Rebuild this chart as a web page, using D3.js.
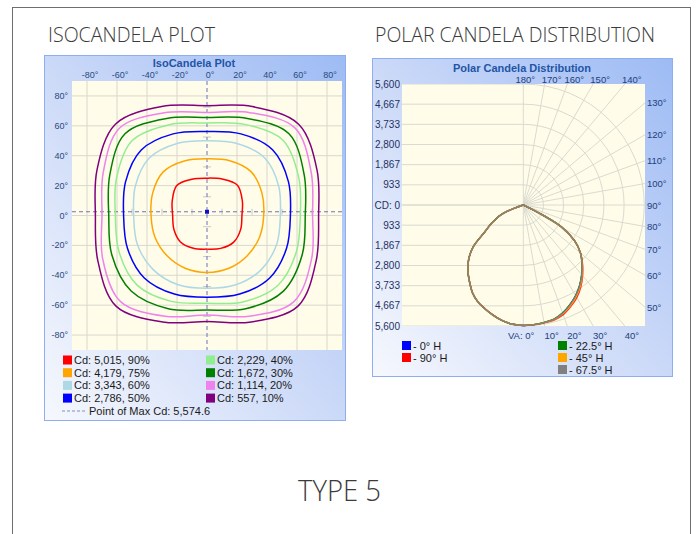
<!DOCTYPE html>
<html>
<head>
<meta charset="utf-8">
<script src="https://cdn.jsdelivr.net/npm/d3@7.9.0/dist/d3.min.js"></script>
<style>
  html, body { margin: 0; padding: 0; background: #fff; }
  svg { display: block; }
  text { font-family: "Liberation Sans", Arial, sans-serif; }
  .big { font-family: "Open Sans", "Noto Sans", sans-serif; font-weight: 300; fill: #3b3b3b; }
</style>
</head>
<body>
<svg id="chart" width="697" height="534"></svg>
<script>
// ---- isocandela data ----
const isoTicks = [-80, -60, -40, -20, 0, 20, 40, 60, 80];
const isoMinor = [-70, -50, -30, -10, 10, 30, 50, 70];
const isoAngles = [0, 22.5, 45, 67.5, 90, 112.5, 135, 157.5, 180, 202.5, 225, 247.5, 270, 292.5, 315, 337.5];
// radius of each contour (degrees) at isoAngles
const r90 = [23.3, 25.5, 28.7, 26.4, 25.0, 26.3, 28.5, 25.1, 22.9, 23.9, 25.0, 23.7, 22.5, 23.8, 25.2, 24.3];
const r75 = [37.8, 39.6, 41.5, 39.7, 37.9, 39.5, 41.3, 39.2, 37.3, 37.6, 37.9, 38.2, 38.1, 38.2, 38.0, 37.9];
const r60 = [48.9, 51.7, 54.4, 52.2, 50.0, 52.2, 54.4, 51.7, 48.9, 50.3, 51.0, 50.2, 48.7, 50.2, 51.2, 50.3];
const r50 = [55.6, 58.8, 62.0, 59.1, 56.2, 59.1, 62.0, 58.8, 55.6, 57.4, 59.1, 56.9, 54.7, 56.9, 59.1, 57.4];
const r40 = [62.2, 66.2, 71.4, 66.0, 61.9, 65.8, 70.7, 65.3, 61.1, 63.5, 65.9, 62.2, 58.7, 62.6, 66.5, 64.4];
const r30 = [65.5, 70.2, 77.3, 70.3, 65.6, 70.3, 77.3, 70.2, 65.5, 68.7, 71.5, 67.5, 63.2, 67.5, 71.8, 68.7];
const r20 = [70.4, 75.2, 82.9, 74.5, 69.0, 74.4, 82.6, 74.9, 70.0, 75.3, 81.5, 73.0, 66.6, 73.0, 81.7, 75.5];
const r10 = [74.4, 79.4, 86.4, 78.9, 73.5, 78.9, 86.4, 79.4, 74.4, 78.8, 85.8, 77.1, 71.0, 77.1, 85.8, 78.8];
const isoRadii = [r90, r75, r60, r50, r40, r30, r20, r10];
const isoLabels = ["Cd: 5,015, 90%", "Cd: 4,179, 75%", "Cd: 3,343, 60%", "Cd: 2,786, 50%",
                   "Cd: 2,229, 40%", "Cd: 1,672, 30%", "Cd: 1,114, 20%", "Cd: 557, 10%"];
const maxPoint = [0, 2.5];
const maxLabel = "Point of Max Cd: 5,574.6";

// ---- polar data ----
const cdTicks = [0, 933, 1867, 2800, 3733, 4667, 5600];
const vaTicks = [0, 10, 20, 30, 40, 50, 60, 70, 80, 90, 100, 110, 120, 130, 140, 150, 160, 170, 180];
const vaAngles = [0, 5, 10, 15, 20, 25, 30, 35, 40, 45, 50, 55, 60, 62.5, 65, 67.5, 70, 75, 80, 85, 90];
const h0Right   = [5575, 5560, 5525, 5480, 5330, 5100, 4850, 4550, 4210, 3850, 3450, 2900, 2050, 1150, 150, 0, 0, 0, 0, 0, 0];
const h0Left    = [5575, 5540, 5450, 5300, 5130, 4960, 4700, 4340, 3990, 3580, 3040, 2180, 1700, 1450, 1250, 1000, 480, 0, 0, 0, 0];
const h90Right  = [5575, 5565, 5540, 5510, 5400, 5190, 4950, 4640, 4270, 3880, 3460, 2900, 2040, 1130, 140, 0, 0, 0, 0, 0, 0];
const h90Left   = [5575, 5540, 5445, 5290, 5120, 4950, 4690, 4330, 3980, 3570, 3030, 2160, 1690, 1440, 1240, 990, 470, 0, 0, 0, 0];
const h225Right = [5575, 5560, 5520, 5470, 5310, 5090, 4840, 4540, 4200, 3840, 3450, 2920, 2080, 1180, 170, 0, 0, 0, 0, 0, 0];
const h225Left  = [5575, 5540, 5450, 5300, 5130, 4960, 4700, 4340, 3990, 3580, 3050, 2200, 1720, 1470, 1270, 1010, 490, 0, 0, 0, 0];
const h45Right  = [5575, 5560, 5530, 5490, 5360, 5150, 4900, 4600, 4240, 3860, 3450, 2900, 2050, 1150, 150, 0, 0, 0, 0, 0, 0];
const h45Left   = [5575, 5540, 5450, 5300, 5130, 4960, 4700, 4340, 3990, 3580, 3040, 2180, 1700, 1450, 1250, 1000, 480, 0, 0, 0, 0];
const h675Right = [5575, 5560, 5525, 5480, 5330, 5100, 4850, 4550, 4210, 3850, 3450, 2900, 2050, 1150, 150, 0, 0, 0, 0, 0, 0];
const h675Left  = [5575, 5540, 5450, 5300, 5130, 4960, 4700, 4340, 3990, 3580, 3040, 2180, 1700, 1450, 1250, 1000, 480, 0, 0, 0, 0];
const planeLabels = ["- 0° H", "- 90° H", "- 22.5° H", "- 45° H", "- 67.5° H"];
const planeRight = [h0Right, h90Right, h225Right, h45Right, h675Right];
const planeLeft = [h0Left, h90Left, h225Left, h45Left, h675Left];

const isoColors = ["#ff0000", "#ffa500", "#add8e6", "#0000ff", "#90ee90", "#008000", "#ee82ee", "#800080"];
const planeColors = ["#0000ff", "#ff0000", "#008000", "#ffa500", "#808080"];

const svg = d3.select('#chart');
const defs = svg.append('defs');
const grad = defs.append('linearGradient').attr('id', 'panelGrad')
    .attr('x1', 1).attr('y1', 0).attr('x2', 0).attr('y2', 1);
grad.append('stop').attr('offset', '0%').attr('stop-color', '#9dbbf4');
grad.append('stop').attr('offset', '50%').attr('stop-color', '#cbd9f8');
grad.append('stop').attr('offset', '100%').attr('stop-color', '#f6f8fd');

// page frame and headings
svg.append('rect').attr('x', 12.5).attr('y', 7.5).attr('width', 678).attr('height', 560)
    .attr('fill', 'none').attr('stroke', '#6e6e6e');
svg.append('text').attr('class', 'big').attr('x', 48).attr('y', 42).attr('font-size', 21)
    .attr('textLength', 167).attr('lengthAdjust', 'spacingAndGlyphs').text('ISOCANDELA PLOT');
svg.append('text').attr('class', 'big').attr('x', 375).attr('y', 42).attr('font-size', 21)
    .attr('textLength', 280).attr('lengthAdjust', 'spacingAndGlyphs').text('POLAR CANDELA DISTRIBUTION');
svg.append('text').attr('class', 'big').attr('x', 298).attr('y', 501).attr('font-size', 30)
    .attr('textLength', 83).attr('lengthAdjust', 'spacingAndGlyphs').text('TYPE 5');

// ================= isocandela plot =================
const isoX = d3.scaleLinear().domain([-90, 90]).range([72, 342]);
const isoY = d3.scaleLinear().domain([-90, 90]).range([350, 81]);

svg.append('rect').attr('x', 44.5).attr('y', 55.5).attr('width', 301).attr('height', 365)
    .attr('fill', 'url(#panelGrad)').attr('stroke', '#8eaef0');
svg.append('rect').attr('x', isoX(-90)).attr('y', isoY(90))
    .attr('width', isoX(90) - isoX(-90)).attr('height', isoY(-90) - isoY(90)).attr('fill', '#fffde9');

const isoG = svg.append('g');
isoTicks.forEach(t => {
    if (t !== 0) {
        isoG.append('line').attr('x1', isoX(t)).attr('x2', isoX(t)).attr('y1', isoY(90)).attr('y2', isoY(-90))
            .attr('stroke', '#d8d8cc');
    }
    isoG.append('line').attr('y1', isoY(t)).attr('y2', isoY(t)).attr('x1', isoX(-90)).attr('x2', isoX(90))
        .attr('stroke', '#d8d8cc');
    isoG.append('text').attr('x', isoX(t) + 3).attr('y', 78).attr('text-anchor', 'middle')
        .attr('font-size', 9).attr('fill', '#2b4a7c').text(t + '°');
    isoG.append('text').attr('x', 68).attr('y', isoY(t) + 3).attr('text-anchor', 'end')
        .attr('font-size', 9).attr('fill', '#2b4a7c').text(t + '°');
});

// minor ticks along crosshair
isoMinor.forEach(m => {
    isoG.append('line').attr('x1', isoX(m)).attr('x2', isoX(m))
        .attr('y1', isoY(maxPoint[1]) - 3).attr('y2', isoY(maxPoint[1]) + 3).attr('stroke', '#c8c8c8');
    isoG.append('line').attr('y1', isoY(maxPoint[1] + m)).attr('y2', isoY(maxPoint[1] + m))
        .attr('x1', isoX(0) - 4).attr('x2', isoX(0) + 4).attr('stroke', '#c8c8c8');
});

// crosshair through max point
isoG.append('line').attr('x1', isoX(maxPoint[0])).attr('x2', isoX(maxPoint[0]))
    .attr('y1', isoY(90)).attr('y2', isoY(-90))
    .attr('stroke', '#7070b8').attr('stroke-dasharray', '4,3');
isoG.append('line').attr('y1', isoY(maxPoint[1])).attr('y2', isoY(maxPoint[1]))
    .attr('x1', isoX(-90)).attr('x2', isoX(90))
    .attr('stroke', '#7070b8').attr('stroke-dasharray', '4,3');

const contourLine = d3.line().x(d => isoX(d[0])).y(d => isoY(d[1]))
    .curve(d3.curveCatmullRomClosed.alpha(0.5));
isoRadii.forEach((radii, i) => {
    const pts = radii.map((r, j) => {
        const a = isoAngles[j] * Math.PI / 180;
        return [r * Math.cos(a), r * Math.sin(a)];
    });
    isoG.append('path').attr('d', contourLine(pts)).attr('fill', 'none')
        .attr('stroke', isoColors[i]).attr('stroke-width', 1.5);
});
isoG.append('rect').attr('x', isoX(maxPoint[0]) - 2).attr('y', isoY(maxPoint[1]) - 2)
    .attr('width', 4).attr('height', 4).attr('fill', '#1010c8');

isoG.append('text').attr('x', 194).attr('y', 67).attr('text-anchor', 'middle')
    .attr('font-size', 11).attr('font-weight', 'bold').attr('fill', '#1f55a6').text('IsoCandela Plot');

// legend
isoLabels.forEach((lab, i) => {
    const col = Math.floor(i / 4), row = i % 4;
    const lx = col === 0 ? 63 : 206, ly = 360 + row * 12.7;
    isoG.append('rect').attr('x', lx).attr('y', ly - 4.5).attr('width', 9).attr('height', 9).attr('fill', isoColors[i]);
    isoG.append('text').attr('x', lx + 11).attr('y', ly + 4).attr('font-size', 11).attr('fill', '#1a1a1a').text(lab);
});
isoG.append('line').attr('x1', 62).attr('x2', 86).attr('y1', 411).attr('y2', 411)
    .attr('stroke', '#8090b8').attr('stroke-dasharray', '3,2');
isoG.append('text').attr('x', 89).attr('y', 415).attr('font-size', 11).attr('fill', '#1a1a1a').text(maxLabel);

// ================= polar candela plot =================
const polarX = d3.scaleLinear().domain([-5600, 5600]).range([402.3, 644.3]);
const polarY = d3.scaleLinear().domain([-5600, 5600]).range([84, 326]);
const cx = polarX(0), cy = polarY(0);
const pLeft = 402, pRight = 645, pTop = 84, pBottom = 326;

svg.append('rect').attr('x', 372.5).attr('y', 58.5).attr('width', 300).attr('height', 318)
    .attr('fill', 'url(#panelGrad)').attr('stroke', '#8eaef0');
svg.append('rect').attr('x', pLeft).attr('y', pTop).attr('width', pRight - pLeft).attr('height', pBottom - pTop)
    .attr('fill', '#fffde9');
defs.append('clipPath').attr('id', 'polarClip').append('rect')
    .attr('x', pLeft).attr('y', pTop).attr('width', pRight - pLeft).attr('height', pBottom - pTop);

const pg = svg.append('g');
const grid = pg.append('g').attr('clip-path', 'url(#polarClip)');
cdTicks.forEach(c => {
    [-1, 1].forEach(s => {
        grid.append('line').attr('x1', pLeft).attr('x2', cx).attr('y1', polarY(s * c)).attr('y2', polarY(s * c))
            .attr('stroke', '#dadad0');
    });
    if (c > 0) {
        const r = polarX(c) - cx;
        grid.append('path')
            .attr('d', `M${cx},${polarY(-c)} A${r},${r} 0 0 1 ${cx},${polarY(c)}`)
            .attr('fill', 'none').attr('stroke', '#dadad0');
    }
});
vaTicks.forEach(va => {
    const a = va * Math.PI / 180;
    grid.append('line').attr('x1', cx).attr('y1', cy)
        .attr('x2', cx + 400 * Math.sin(a)).attr('y2', cy + 400 * Math.cos(a))
        .attr('stroke', '#dadad0');
});

// left axis labels
cdTicks.forEach(c => {
    [-1, 1].forEach(s => {
        if (c === 0 && s === 1) return;
        pg.append('text').attr('x', 400).attr('y', polarY(s * c) + 3.5).attr('text-anchor', 'end')
            .attr('font-size', 10).attr('fill', '#1f3160')
            .text(c === 0 ? 'CD: 0' : d3.format(',')(c));
    });
});

// angle labels where the rays leave the plot
vaTicks.forEach(va => {
    const a = va * Math.PI / 180, sx = Math.sin(a), sy = Math.cos(a);
    const ts = [];
    if (sx > 1e-6) ts.push((pRight - cx) / sx);
    if (sy > 1e-6) ts.push((pBottom - cy) / sy);
    if (sy < -1e-6) ts.push((pTop - cy) / sy);
    const t = Math.min(...ts);
    const hx = cx + t * sx, hy = cy + t * sy;
    const lab = pg.append('text').attr('font-size', 9.5).attr('fill', '#23407a');
    if (va === 0) {
        lab.attr('x', cx + 11).attr('y', 338.5).attr('text-anchor', 'end').text('VA: 0°');
    } else if (Math.abs(hy - pBottom) < 0.5) {
        lab.attr('x', hx + 7).attr('y', 338.5).attr('text-anchor', 'middle').text(va + '°');
    } else if (va === 180) {
        lab.attr('x', hx + 2).attr('y', 83).attr('text-anchor', 'middle').text(va + '°');
    } else if (Math.abs(hy - pTop) < 0.5) {
        lab.attr('x', hx + 7).attr('y', 83).attr('text-anchor', 'middle').text(va + '°');
    } else {
        lab.attr('x', 647).attr('y', hy + 3.5).text(va + '°');
    }
});

// candela curves
const pt = (va, cd, side) => {
    const a = va * Math.PI / 180;
    return [polarX(side * cd * Math.sin(a)), polarY(cd * Math.cos(a))];
};
const curveLine = d3.line().curve(d3.curveCatmullRom.alpha(0.5));
planeLabels.forEach((lab, p) => {
    const L = planeLeft[p], R = planeRight[p];
    const pts = [[cx, cy]];
    for (let i = vaAngles.length - 1; i >= 0; i--) if (L[i] > 0) pts.push(pt(vaAngles[i], L[i], -1));
    for (let i = 1; i < vaAngles.length; i++) if (R[i] > 0) pts.push(pt(vaAngles[i], R[i], 1));
    pts.push([cx, cy]);
    pg.append('path').attr('d', curveLine(pts)).attr('fill', 'none')
        .attr('stroke', planeColors[p]).attr('stroke-width', 1.4).attr('stroke-opacity', 0.85);
});

pg.append('text').attr('x', 522).attr('y', 71.5).attr('text-anchor', 'middle')
    .attr('font-size', 11).attr('font-weight', 'bold').attr('fill', '#1f55a6').text('Polar Candela Distribution');

// legend
planeLabels.forEach((lab, i) => {
    const col = i < 2 ? 0 : 1, row = i < 2 ? i : i - 2;
    const lx = col === 0 ? 402 : 558, ly = 345.5 + row * 12;
    pg.append('rect').attr('x', lx).attr('y', ly - 4.5).attr('width', 9).attr('height', 9).attr('fill', planeColors[i]);
    pg.append('text').attr('x', lx + 11).attr('y', ly + 4).attr('font-size', 11).attr('fill', '#1a1a1a').text(lab);
});
</script>
</body>
</html>
